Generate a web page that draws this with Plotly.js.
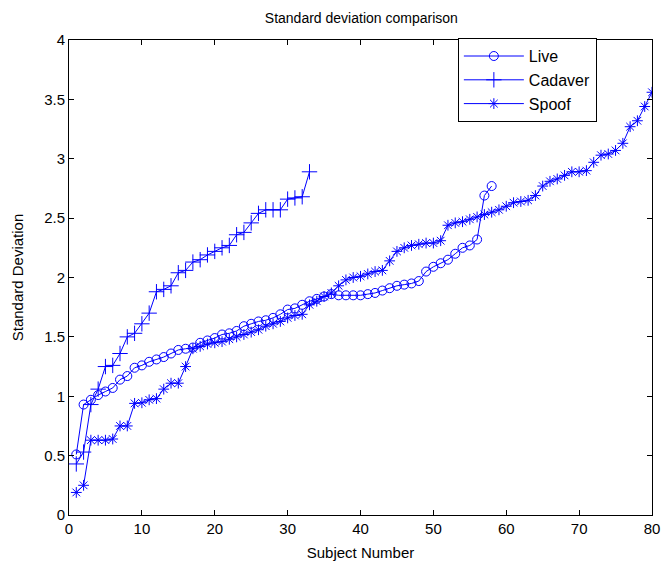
<!DOCTYPE html>
<html>
<head>
<meta charset="utf-8">
<script src="https://cdn.plot.ly/plotly-3.0.1.min.js"></script>
<style>html,body{margin:0;padding:0;background:#fff;}#chart{width:663px;height:571px;}</style>
</head>
<body>
<div id="chart"></div>
<script>
const liveValues = [0.51,0.93,0.97,1.01,1.04,1.07,1.14,1.17,1.24,1.26,1.29,1.31,1.33,1.36,1.39,1.40,1.41,1.45,1.47,1.49,1.52,1.53,1.55,1.59,1.61,1.63,1.64,1.66,1.69,1.73,1.74,1.77,1.80,1.82,1.84,1.86,1.85,1.85,1.85,1.85,1.86,1.87,1.89,1.91,1.93,1.94,1.95,1.97,2.05,2.09,2.12,2.15,2.20,2.25,2.27,2.32,2.69,2.77];
const cadaverValues = [0.43,0.53,0.93,1.06,1.25,1.26,1.36,1.50,1.53,1.61,1.70,1.88,1.90,1.93,2.04,2.06,2.13,2.15,2.19,2.22,2.25,2.27,2.36,2.38,2.46,2.54,2.57,2.57,2.57,2.66,2.67,2.68,2.89];
const spoofValues = [0.19,0.25,0.63,0.63,0.63,0.64,0.75,0.75,0.94,0.945,0.97,0.98,1.06,1.11,1.11,1.25,1.40,1.42,1.44,1.45,1.46,1.48,1.50,1.52,1.54,1.56,1.59,1.61,1.63,1.66,1.68,1.69,1.77,1.80,1.84,1.87,1.93,1.98,2.00,2.01,2.03,2.05,2.06,2.14,2.22,2.25,2.27,2.28,2.29,2.29,2.31,2.44,2.46,2.47,2.49,2.51,2.53,2.55,2.57,2.60,2.63,2.64,2.65,2.69,2.77,2.81,2.83,2.86,2.89,2.89,2.90,2.97,3.03,3.04,3.07,3.13,3.27,3.32,3.44,3.56];
const seriesNames = ["Live","Cadaver","Spoof"];
const xTicks = [0,10,20,30,40,50,60,70,80];
const yTicks = [0,0.5,1,1.5,2,2.5,3,3.5,4];
const yTickLabels = ["0","0.5","1","1.5","2","2.5","3","3.5","4"];

const idx = arr => arr.map((_, i) => i + 1);
const blue = '#0000FF';
const mk = (name, vals, symbol, size) => ({
  type: 'scatter', mode: 'lines+markers', name: name,
  x: idx(vals), y: vals,
  line: {color: blue, width: 1},
  marker: {symbol: symbol, size: size, color: blue, line: {color: blue, width: 1}}
});
const data = [
  mk(seriesNames[0], liveValues, 'circle-open', 9),
  mk(seriesNames[1], cadaverValues, 'cross-thin-open', 11),
  mk(seriesNames[2], spoofValues, 'asterisk-open', 9)
];
const axisCommon = {
  showline: true, linecolor: '#000', linewidth: 1, mirror: 'ticks',
  ticks: 'inside', ticklen: 5, tickcolor: '#000', tickwidth: 1,
  showgrid: false, zeroline: false,
  tickfont: {family: 'Liberation Sans, Arial, sans-serif', size: 15, color: '#000'}
};
const layout = {
  width: 663, height: 571,
  margin: {l: 69, r: 11, t: 40, b: 56},
  paper_bgcolor: '#fff', plot_bgcolor: '#fff',
  font: {family: 'Liberation Sans, Arial, sans-serif', size: 12, color: '#000'},
  title: {text: 'Standard deviation comparison', x: 0.545, xanchor: 'center', y: 0.968, yanchor: 'middle',
          font: {size: 14, color: '#000'}},
  xaxis: Object.assign({}, axisCommon, {
    range: [0, 80], tickvals: xTicks, ticktext: xTicks.map(String),
    title: {text: 'Subject Number', font: {size: 15}, standoff: 11}
  }),
  yaxis: Object.assign({}, axisCommon, {
    range: [0, 4], tickvals: yTicks, ticktext: yTickLabels,
    title: {text: 'Standard Deviation', font: {size: 15}, standoff: 16}
  }),
  showlegend: true,
  legend: {
    x: 0.667, y: 1.004, xanchor: 'left', yanchor: 'top',
    bgcolor: '#fff', bordercolor: '#000', borderwidth: 1,
    font: {size: 16, color: '#000'}, tracegroupgap: 0, itemwidth: 60
  }
};
Plotly.newPlot('chart', data, layout, {displayModeBar: false, staticPlot: true});
</script>
</body>
</html>
